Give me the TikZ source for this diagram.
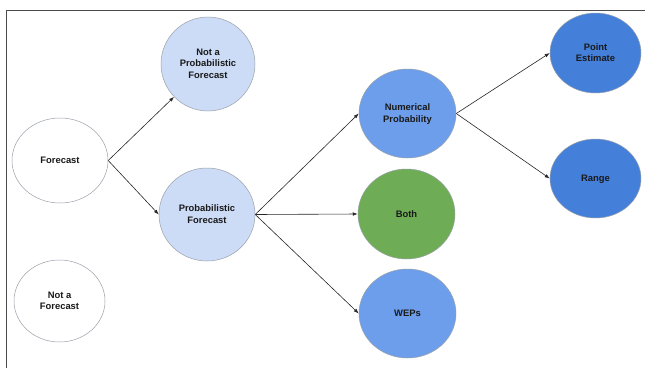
\documentclass[tikz,border=0pt]{standalone}
\usepackage{fontspec}
\setmainfont{Liberation Sans}
\usetikzlibrary{shapes.geometric,arrows.meta}
\definecolor{lightblue}{HTML}{CCDCF6}
\definecolor{midblue}{HTML}{6D9EEB}
\definecolor{darkblue}{HTML}{4480DA}
\definecolor{green}{HTML}{6EAD55}
\definecolor{rim}{HTML}{9AA0A8}
\begin{document}
\begin{tikzpicture}[x=1pt,y=-1pt,
  bubble/.style={ellipse, draw=rim, line width=0.5pt, inner sep=0pt, align=center,
    font=\fontsize{9.4}{11.3}\selectfont\bfseries, text=black!90, text depth=0.6pt},
  link/.style={draw=black!85, line width=0.6pt, -{Latex[length=5pt,width=3.6pt]}}]
\useasboundingbox (0,0) rectangle (645,368);
\draw[line width=1.5pt, black!70] (6.5,368) -- (6.5,10.5) -- (645,10.5);
\node[bubble, fill=white, minimum width=96pt, minimum height=85pt] (F) at (60,160.5) {Forecast};
\node[bubble, fill=white, minimum width=91pt, minimum height=82pt] (NF) at (59.5,301) {Not a\\Forecast};
\node[bubble, fill=lightblue, minimum width=94pt, minimum height=94pt] (NP) at (208,64) {Not a\\Probabilistic\\Forecast};
\node[bubble, fill=lightblue, minimum width=96pt, minimum height=93pt] (PF) at (207,214.5) {Probabilistic\\Forecast};
\node[bubble, fill=midblue, minimum width=97pt, minimum height=89pt] (NUM) at (407.5,113.5) {Numerical\\Probability};
\node[bubble, fill=green, minimum width=97pt, minimum height=90pt] (B) at (406.5,214) {Both};
\node[bubble, fill=midblue, minimum width=97pt, minimum height=89pt] (W) at (407.5,313.5) {WEPs};
\node[bubble, fill=darkblue, minimum width=91pt, minimum height=80pt] (PE) at (595.5,53) {Point\\Estimate};
\node[bubble, fill=darkblue, minimum width=91pt, minimum height=79pt] (R) at (595.5,178.5) {Range};
\draw[link] (F.east) -- (NP);
\draw[link] (F.east) -- (PF.west);
\draw[link] (PF.east) -- (NUM.west);
\draw[link] (PF.east) -- (B.west);
\draw[link] (PF.east) -- (W.west);
\draw[link] (NUM.east) -- (PE.west);
\draw[link] (NUM.east) -- (R.west);
\end{tikzpicture}
\end{document}
